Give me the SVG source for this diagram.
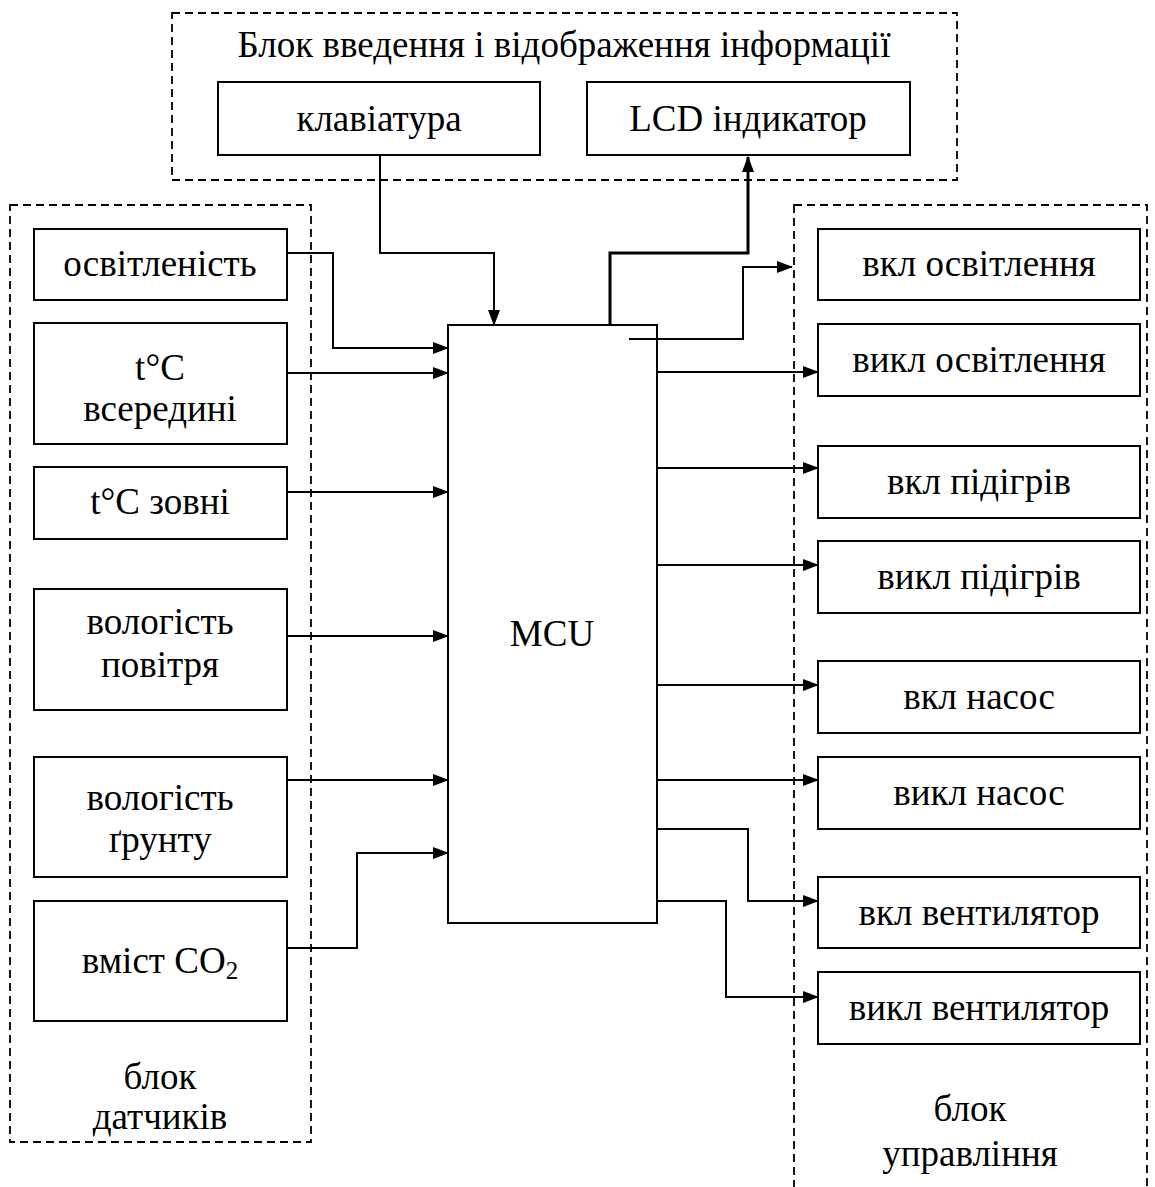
<svg xmlns="http://www.w3.org/2000/svg" width="1155" height="1187" viewBox="0 0 1155 1187">
<style>
.box{fill:#fff;stroke:#000;stroke-width:2}
.grp{fill:none;stroke:#000;stroke-width:1.8;stroke-dasharray:8 5}
.t{font-family:"Liberation Serif","Times New Roman",serif;font-size:37px;fill:#000;text-anchor:middle}
.c{fill:none;stroke:#000;stroke-width:2}
.ct{fill:none;stroke:#000;stroke-width:3}
</style>
<defs>
<marker id="ah" markerWidth="16" markerHeight="12" refX="15" refY="6" orient="auto" markerUnits="userSpaceOnUse">
<path d="M0,0 L16,6 L0,12 Z" fill="#000"/>
</marker>
</defs>
<rect width="1155" height="1187" fill="#fff"/>
<g id="group-top">
<rect class="grp" x="172" y="13" width="785" height="167"/>
<text class="t" x="564" y="57">Блок введення і відображення інформації</text>
</g>
<g id="group-sensors">
<rect class="grp" x="10" y="205" width="301" height="937"/>
<text class="t" x="160" y="1089">блок</text>
<text class="t" x="160" y="1129">датчиків</text>
</g>
<g id="group-control">
<rect class="grp" x="794" y="205" width="353" height="990"/>
<text class="t" x="970" y="1121">блок</text>
<text class="t" x="970" y="1166">управління</text>
</g>
<g id="keyboard"><rect class="box" x="218" y="82" width="322" height="73"/><text class="t" x="379" y="131">клавіатура</text></g>
<g id="lcd"><rect class="box" x="587" y="82" width="323" height="73"/><text class="t" x="748" y="131">LCD індикатор</text></g>
<g id="s-light"><rect class="box" x="34" y="229" width="253" height="71"/><text class="t" x="160" y="276">освітленість</text></g>
<g id="s-tin"><rect class="box" x="34" y="323" width="253" height="121"/><text class="t" x="160" y="380">t°C</text><text class="t" x="160" y="421">всередині</text></g>
<g id="s-tout"><rect class="box" x="34" y="467" width="253" height="72"/><text class="t" x="160" y="514">t°C зовні</text></g>
<g id="s-hair"><rect class="box" x="34" y="589" width="253" height="121"/><text class="t" x="160" y="634">вологість</text><text class="t" x="160" y="677">повітря</text></g>
<g id="s-hsoil"><rect class="box" x="34" y="757" width="253" height="120"/><text class="t" x="160" y="810">вологість</text><text class="t" x="160" y="852">ґрунту</text></g>
<g id="s-co2"><rect class="box" x="34" y="901" width="253" height="120"/><text class="t" x="160" y="973">вміст CO<tspan font-size="25" dy="6">2</tspan></text></g>
<g id="mcu"><rect class="box" x="448" y="325" width="209" height="598"/><text class="t" x="552" y="646">MCU</text></g>
<g id="a1"><rect class="box" x="818" y="229" width="322" height="71"/><text class="t" x="979" y="276">вкл освітлення</text></g>
<g id="a2"><rect class="box" x="818" y="324" width="322" height="72"/><text class="t" x="979" y="372">викл освітлення</text></g>
<g id="a3"><rect class="box" x="818" y="446" width="322" height="72"/><text class="t" x="979" y="494">вкл підігрів</text></g>
<g id="a4"><rect class="box" x="818" y="541" width="322" height="72"/><text class="t" x="979" y="589">викл підігрів</text></g>
<g id="a5"><rect class="box" x="818" y="661" width="322" height="72"/><text class="t" x="979" y="709">вкл насос</text></g>
<g id="a6"><rect class="box" x="818" y="757" width="322" height="72"/><text class="t" x="979" y="805">викл насос</text></g>
<g id="a7"><rect class="box" x="818" y="877" width="322" height="71"/><text class="t" x="979" y="925">вкл вентилятор</text></g>
<g id="a8"><rect class="box" x="818" y="972" width="322" height="72"/><text class="t" x="979" y="1020">викл вентилятор</text></g>
<g id="connectors">
<polyline class="c" points="380,155 380,253 494,253 494,325" marker-end="url(#ah)"/>
<polyline class="ct" points="610,325 610,253 748,253 748,157" marker-end="url(#ah)"/>
<polyline class="c" points="629,339 743,339 743,267 792,267" marker-end="url(#ah)"/>
<polyline class="c" points="287,253 333,253 333,348 448,348" marker-end="url(#ah)"/>
<line class="c" x1="287" y1="373" x2="448" y2="373" marker-end="url(#ah)"/>
<line class="c" x1="287" y1="492" x2="448" y2="492" marker-end="url(#ah)"/>
<line class="c" x1="287" y1="636" x2="448" y2="636" marker-end="url(#ah)"/>
<line class="c" x1="287" y1="780" x2="448" y2="780" marker-end="url(#ah)"/>
<polyline class="c" points="287,948 357,948 357,853 448,853" marker-end="url(#ah)"/>
<line class="c" x1="657" y1="372" x2="818" y2="372" marker-end="url(#ah)"/>
<line class="c" x1="657" y1="468" x2="818" y2="468" marker-end="url(#ah)"/>
<line class="c" x1="657" y1="565" x2="818" y2="565" marker-end="url(#ah)"/>
<line class="c" x1="657" y1="685" x2="818" y2="685" marker-end="url(#ah)"/>
<line class="c" x1="657" y1="780" x2="818" y2="780" marker-end="url(#ah)"/>
<polyline class="c" points="657,829 748,829 748,901 818,901" marker-end="url(#ah)"/>
<polyline class="c" points="657,901 726,901 726,997 818,997" marker-end="url(#ah)"/>
</g>
</svg>
